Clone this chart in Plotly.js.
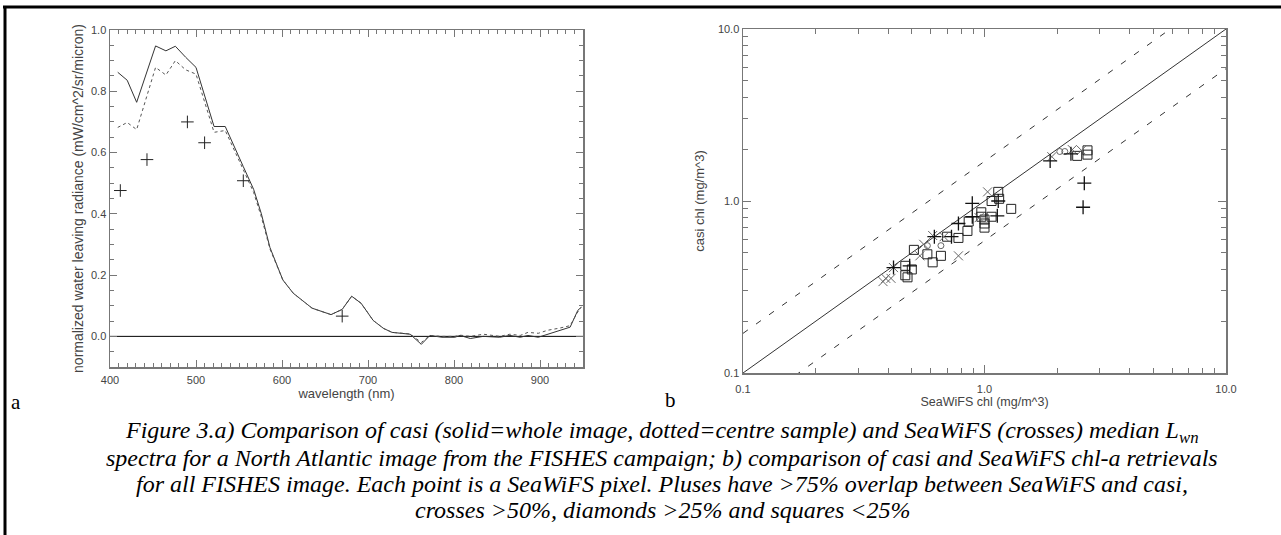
<!DOCTYPE html>
<html>
<head>
<meta charset="utf-8">
<script src="https://cdn.plot.ly/plotly-3.0.1.min.js"></script>
<style>
html,body{margin:0;padding:0;background:#fff;}
#chart{width:1281px;height:535px;}
</style>
</head>
<body>
<div id="chart"></div>
<script>
// ---- Panel a: spectra ----
const wavelength = [409,420,431,453,465,476,488,500,521,534,555,567,576,586,601,613,635,657,670,681,692,706,718,728,749,762,772,786,801,807,819,834,853,865,877,886,898,909,923,935,944,948];
const casiWhole  = [0.862,0.836,0.764,0.948,0.932,0.947,0.911,0.878,0.685,0.685,0.554,0.48,0.40,0.29,0.184,0.141,0.092,0.071,0.088,0.131,0.108,0.052,0.026,0.013,0.007,-0.026,0.003,-0.003,-0.003,0.003,-0.007,0.0,-0.003,0.003,-0.003,0.003,-0.003,0.007,0.02,0.03,0.085,0.095];
const casiCentre = [0.682,0.698,0.675,0.878,0.853,0.900,0.870,0.856,0.666,0.672,0.544,0.47,0.39,0.285,0.184,0.141,0.092,0.071,0.088,0.131,0.108,0.052,0.026,0.013,0.008,-0.02,0.003,0.0,0.0,0.004,0.0,0.007,0.0,0.007,0.003,0.013,0.01,0.02,0.027,0.035,0.08,0.095];
const seawifsWl  = [412,443,490,510,555,670];
const seawifsLwn = [0.476,0.577,0.700,0.632,0.508,0.066];
const zeroLineX = [400,950];
const zeroLineY = [0,0];

// ---- Panel b: chlorophyll comparison ----
const plusX = [1.87,2.28,2.59,2.56,0.89,1.14,1.13,0.78,0.89,0.73,0.62,0.49,0.42];
const plusY = [1.71,1.88,1.27,0.92,0.97,1.00,0.82,0.74,0.81,0.62,0.62,0.42,0.41];
const crossX = [1.90,2.31,2.52,1.03,0.95,0.78,0.68,0.61,0.54,0.56,0.42,0.39,0.41,0.38];
const crossY = [1.81,1.99,1.97,1.13,0.80,0.48,0.62,0.63,0.48,0.56,0.41,0.355,0.355,0.34];
const diamondX = [2.05,2.15,0.66,0.58];
const diamondY = [1.94,1.94,0.55,0.55];
const squareX = [2.42,2.67,2.67,1.14,1.15,1.07,1.29,1.07,0.97,0.97,0.86,1.00,1.00,1.00,0.85,0.78,0.70,0.66,0.61,0.58,0.51,0.50,0.47,0.47,0.48];
const squareY = [1.83,1.97,1.86,1.13,1.03,1.00,0.90,0.81,0.86,0.81,0.76,0.78,0.74,0.70,0.67,0.61,0.62,0.48,0.44,0.49,0.52,0.40,0.42,0.37,0.36];
const oneToOneX = [0.1,10];
const oneToOneY = [0.1,10];
const upperY = [0.17,17];
const lowerY = [0.0588,5.88];

const axisCol = '#777';
const sans = 'Liberation Sans, Arial, sans-serif';
const serif = 'Liberation Serif, Times New Roman, serif';
const tickFont = {family:sans, size:11, color:'#444'};
const W = 1281, H = 535;
const px = v => v/W, py = v => 1 - v/H;

const traces = [
  {x:zeroLineX, y:zeroLineY, mode:'lines', line:{color:'#000', width:1}, xaxis:'x', yaxis:'y', hoverinfo:'skip'},
  {x:wavelength, y:casiWhole, mode:'lines', line:{color:'#333', width:1}, xaxis:'x', yaxis:'y'},
  {x:wavelength, y:casiCentre, mode:'lines', line:{color:'#555', width:1, dash:'dot'}, xaxis:'x', yaxis:'y'},
  {x:seawifsWl, y:seawifsLwn, mode:'markers', marker:{symbol:'cross-thin-open', size:9, color:'#222', line:{color:'#222', width:1}}, xaxis:'x', yaxis:'y'},

  {x:oneToOneX, y:oneToOneY, mode:'lines', line:{color:'#333', width:1}, xaxis:'x2', yaxis:'y2'},
  {x:oneToOneX, y:upperY, mode:'lines', line:{color:'#333', width:1, dash:'6px,10px'}, xaxis:'x2', yaxis:'y2'},
  {x:oneToOneX, y:lowerY, mode:'lines', line:{color:'#333', width:1, dash:'6px,10px'}, xaxis:'x2', yaxis:'y2'},
  {x:squareX, y:squareY, mode:'markers', marker:{symbol:'square-open', size:9, color:'#222', line:{color:'#222', width:1}}, xaxis:'x2', yaxis:'y2'},
  {x:diamondX, y:diamondY, mode:'markers', marker:{symbol:'circle-open', size:6, color:'#666', line:{color:'#666', width:1}}, xaxis:'x2', yaxis:'y2'},
  {x:crossX, y:crossY, mode:'markers', marker:{symbol:'x-thin-open', size:9, color:'#666', line:{color:'#666', width:1}}, xaxis:'x2', yaxis:'y2'},
  {x:plusX, y:plusY, mode:'markers', marker:{symbol:'cross-thin-open', size:10, color:'#111', line:{color:'#111', width:1.3}}, xaxis:'x2', yaxis:'y2'}
];

const logMinor = [0.2,0.3,0.4,0.5,0.6,0.7,0.8,0.9,2,3,4,5,6,7,8,9];

const layout = {
  width:W, height:H,
  margin:{l:0,r:0,t:0,b:0},
  paper_bgcolor:'#fff', plot_bgcolor:'#fff',
  showlegend:false,
  xaxis:{domain:[px(110),px(583)], range:[400,950], anchor:'y',
    tickmode:'linear', tick0:400, dtick:100, ticks:'inside', ticklen:7, tickcolor:axisCol,
    minor:{dtick:10, ticks:'inside', ticklen:4, tickcolor:axisCol},
    showline:true, linecolor:axisCol, linewidth:1.5, mirror:'allticks', showgrid:false, zeroline:false,
    tickfont:tickFont, ticklabelstandoff:2,
    title:{text:'wavelength (nm)', font:{family:sans, size:13, color:'#444'}, standoff:2}},
  yaxis:{domain:[py(367),py(30)], range:[-0.1,1.0], anchor:'x',
    tickmode:'linear', tick0:0, dtick:0.2, tickformat:'.1f', ticks:'inside', ticklen:7, tickcolor:axisCol,
    minor:{dtick:0.05, ticks:'inside', ticklen:4, tickcolor:axisCol},
    showline:true, linecolor:axisCol, linewidth:1.5, mirror:'allticks', showgrid:false, zeroline:false,
    tickfont:tickFont,
    title:{text:'normalized water leaving radiance (mW/cm^2/sr/micron)', font:{family:sans, size:14, color:'#444'}, standoff:4}},
  xaxis2:{domain:[px(743),px(1226)], type:'log', range:[-1,1], anchor:'y2',
    tickmode:'array', tickvals:[0.1,1,10], ticktext:['0.1','1.0','10.0'], ticks:'inside', ticklen:8, tickcolor:axisCol,
    minor:{tickmode:'array', tickvals:logMinor, ticks:'inside', ticklen:5, tickcolor:axisCol},
    showline:true, linecolor:axisCol, linewidth:1.5, mirror:'allticks', showgrid:false, zeroline:false,
    tickfont:tickFont, ticklabelstandoff:5,
    title:{text:'SeaWiFS chl (mg/m^3)', font:{family:sans, size:12.5, color:'#444'}, standoff:3}},
  yaxis2:{domain:[py(373),py(29)], type:'log', range:[-1,1], anchor:'x2',
    tickmode:'array', tickvals:[0.1,1,10], ticktext:['0.1','1.0','10.0'], ticks:'inside', ticklen:8, tickcolor:axisCol,
    minor:{tickmode:'array', tickvals:logMinor, ticks:'inside', ticklen:5, tickcolor:axisCol},
    showline:true, linecolor:axisCol, linewidth:1.5, mirror:'allticks', showgrid:false, zeroline:false,
    tickfont:tickFont,
    title:{text:'casi chl (mg/m^3)', font:{family:sans, size:13, color:'#444'}, standoff:10}},
  shapes:[
    {type:'line', xref:'paper', yref:'paper', x0:px(3), x1:1, y0:py(7), y1:py(7), line:{color:'#000', width:3}},
    {type:'line', xref:'paper', yref:'paper', x0:px(5), x1:px(5), y0:py(7), y1:0, line:{color:'#000', width:3}}
  ],
  annotations:[
    {text:'a', xref:'paper', yref:'paper', x:px(9), y:py(402), xanchor:'left', yanchor:'middle', showarrow:false, font:{family:serif, size:21, color:'#000'}},
    {text:'b', xref:'paper', yref:'paper', x:px(663), y:py(400), xanchor:'left', yanchor:'middle', showarrow:false, font:{family:serif, size:21, color:'#000'}},
    {text:'<i>Figure 3.a) Comparison of casi (solid=whole image, dotted=centre sample) and SeaWiFS (crosses) median L<sub>wn</sub></i>', xref:'paper', yref:'paper', x:px(662), y:py(432), xanchor:'center', yanchor:'middle', showarrow:false, font:{family:serif, size:24, color:'#000'}},
    {text:'<i>spectra for a North Atlantic image from the FISHES campaign; b) comparison of casi and SeaWiFS chl-a retrievals</i>', xref:'paper', yref:'paper', x:px(662), y:py(458), xanchor:'center', yanchor:'middle', showarrow:false, font:{family:serif, size:24, color:'#000'}},
    {text:'<i>for all FISHES image. Each point is a SeaWiFS pixel. Pluses have >75% overlap between SeaWiFS and casi,</i>', xref:'paper', yref:'paper', x:px(662), y:py(484), xanchor:'center', yanchor:'middle', showarrow:false, font:{family:serif, size:24, color:'#000'}},
    {text:'<i>crosses >50%, diamonds >25% and squares <25%</i>', xref:'paper', yref:'paper', x:px(662), y:py(510), xanchor:'center', yanchor:'middle', showarrow:false, font:{family:serif, size:24, color:'#000'}}
  ]
};

Plotly.newPlot('chart', traces, layout, {displayModeBar:false, staticPlot:true});
</script>
</body>
</html>
